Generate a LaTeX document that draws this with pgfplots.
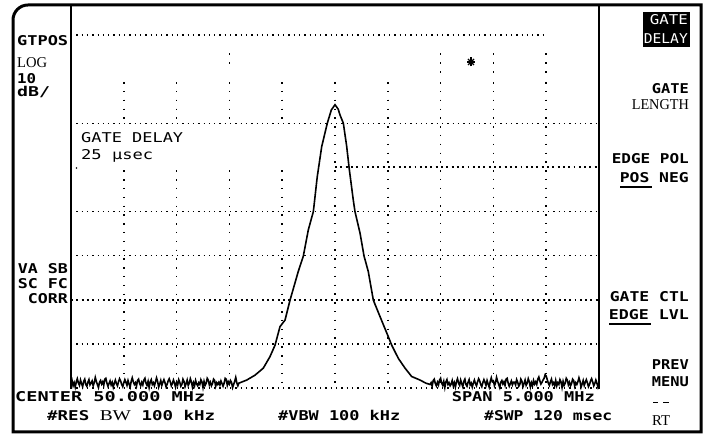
\documentclass[border=0pt]{standalone}
\usepackage{fontspec}
\usepackage{graphicx}
\usepackage{pgfplots}
\pgfplotsset{compat=1.18}
\setmainfont{DejaVu Sans Mono}[BoldFont={DejaVu Sans Mono Bold}]
\newfontfamily\ser{Liberation Serif}
\newlength\tw
\newcommand\fw[2]{\settowidth{\tw}{#2}\pgfmathsetmacro{\sx}{#1*1.00375/\tw}\scalebox{\sx}[1]{#2}}
\newcommand\TL[4]{\node[anchor=base west,inner sep=0pt] at (#1,436-#2) {\fw{#3}{#4}};}
\newcommand\TR[4]{\node[anchor=base east,inner sep=0pt] at (#1,436-#2) {\fw{#3}{#4}};}

\begin{document}
\begin{tikzpicture}[x=1bp,y=1bp,font=\fontsize{13.5bp}{16bp}\selectfont]
\useasboundingbox (0,0) rectangle (705,436);
% outer frame
\draw[line width=3bp] (13,4) [rounded corners=15bp] -- (13,431) [sharp corners] -- (701,431) -- (701,4) -- cycle;
% separators
\draw[line width=2bp] (71,431) -- (71,47);
\draw[line width=2bp] (599,431) -- (599,47);

\begin{axis}[at={(71bp,48bp)}, anchor=south west, scale only axis,
  width=528bp, height=353bp, xmin=47.5, xmax=52.5, ymin=-80, ymax=0,
  axis lines=none, ticks=none, clip=false]
\tikzset{
  hd/.style={line width=1.3bp, dash pattern=on 1.3bp off 4.0bp},
  hb/.style={line width=1.9bp, dash pattern=on 1.9bp off 3.4bp},
  vd/.style={line width=1.5bp, dash pattern=on 1.5bp off 7.3bp, dash phase=-3bp}}
% horizontal graticule
\draw[hd] (axis cs:47.5,0) -- (axis cs:51.99,0);
\draw[hd] (axis cs:47.5,-20) -- (axis cs:52.5,-20);
\draw[hb] (axis cs:50.0,-30) -- (axis cs:52.5,-30);
\draw[hd] (axis cs:47.5,-40) -- (axis cs:52.5,-40);
\draw[hd] (axis cs:47.5,-50) -- (axis cs:52.5,-50);
\draw[hb] (axis cs:47.5,-60) -- (axis cs:52.5,-60);
\draw[hd] (axis cs:47.5,-70) -- (axis cs:52.5,-70);
\draw[hd] (axis cs:47.5,-80) -- (axis cs:52.5,-80);
% vertical graticule
\pgfplotsinvokeforeach{48.0,48.5,49.0,49.5}{
  \draw[vd] (axis cs:#1,-10) -- (axis cs:#1,-20);
  \draw[vd] (axis cs:#1,-30) -- (axis cs:#1,-80);
}
\pgfplotsinvokeforeach{50.0,50.5,51.0,51.5,52.0}{
  \draw[vd] (axis cs:#1,-10) -- (axis cs:#1,-80);
}
\draw[vd] (axis cs:49.0,-3.5) -- (axis cs:49.0,-6.8);
\pgfplotsinvokeforeach{51.0,51.5,52.0}{
  \draw[vd] (axis cs:#1,-3.5) -- (axis cs:#1,-8.8);
}
\addplot[black, line width=1.6bp, mark=none] coordinates {
(47.50,-79.1) (47.51,-78.3) (47.52,-79.5) (47.53,-78.8) (47.54,-79.8) (47.55,-78.6) (47.56,-77.9) (47.57,-78.9) (47.58,-79.4) (47.59,-78.2)
(47.60,-79.0) (47.61,-79.7) (47.62,-78.5) (47.63,-78.0) (47.64,-79.2) (47.65,-79.6) (47.66,-78.7) (47.67,-78.1) (47.68,-79.3) (47.69,-78.9)
(47.70,-78.4) (47.71,-79.5) (47.72,-78.8) (47.73,-77.6) (47.74,-78.5) (47.75,-79.2) (47.76,-79.9) (47.77,-78.7) (47.78,-78.3) (47.79,-79.1)
(47.80,-78.6) (47.81,-79.4) (47.82,-78.0) (47.83,-77.8) (47.84,-78.9) (47.85,-79.6) (47.86,-79.0) (47.87,-78.4) (47.88,-79.3) (47.89,-78.7)
(47.90,-79.8) (47.91,-78.9) (47.92,-78.2) (47.93,-79.0) (47.94,-79.5) (47.95,-78.6) (47.96,-77.9) (47.97,-78.4) (47.98,-79.2) (47.99,-79.7)
(48.00,-78.8) (48.01,-78.1) (48.02,-78.7) (48.03,-79.4) (48.04,-78.3) (48.05,-79.1) (48.06,-79.8) (48.07,-78.5) (48.08,-77.7) (48.09,-78.6)
(48.10,-79.2) (48.11,-78.8) (48.12,-79.6) (48.13,-78.3) (48.14,-78.0) (48.15,-79.0) (48.16,-79.5) (48.17,-78.7) (48.18,-79.3) (48.19,-78.2)
(48.20,-77.8) (48.21,-78.9) (48.22,-79.4) (48.23,-78.5) (48.24,-79.9) (48.25,-78.6) (48.26,-78.1) (48.27,-79.2) (48.28,-78.8) (48.29,-79.5)
(48.30,-78.6) (48.31,-77.7) (48.32,-78.5) (48.33,-79.8) (48.34,-79.1) (48.35,-78.3) (48.36,-79.4) (48.37,-78.7) (48.38,-78.1) (48.39,-78.8)
(48.40,-79.7) (48.41,-79.2) (48.42,-78.4) (48.43,-77.9) (48.44,-78.6) (48.45,-79.5) (48.46,-79.0) (48.47,-78.2) (48.48,-78.9) (48.49,-79.8)
(48.50,-78.7) (48.51,-79.3) (48.52,-78.1) (48.53,-78.7) (48.54,-79.6) (48.55,-79.2) (48.56,-78.0) (48.57,-78.5) (48.58,-79.7) (48.59,-79.0)
(48.60,-78.2) (48.61,-79.4) (48.62,-78.9) (48.63,-77.9) (48.64,-78.6) (48.65,-79.8) (48.66,-78.8) (48.67,-79.5) (48.68,-78.3) (48.69,-79.1)
(48.70,-79.5) (48.71,-78.8) (48.72,-79.2) (48.73,-78.1) (48.74,-78.6) (48.75,-79.9) (48.76,-78.5) (48.77,-79.4) (48.78,-78.9) (48.79,-77.8)
(48.80,-78.2) (48.81,-79.3) (48.82,-78.7) (48.83,-79.5) (48.84,-79.0) (48.85,-78.0) (48.86,-78.3) (48.87,-79.6) (48.88,-78.8) (48.89,-79.2)
(48.90,-78.7) (48.91,-79.3) (48.92,-78.4) (48.93,-79.0) (48.94,-79.6) (48.95,-78.9) (48.96,-77.8) (48.97,-78.0) (48.98,-79.4) (48.99,-78.6)
(49.00,-79.1) (49.01,-78.3) (49.02,-78.7) (49.03,-79.9) (49.04,-79.2) (49.05,-78.5) (49.06,-77.6) (49.07,-78.8) (49.08,-79.5) (49.09,-78.9)
(49.164,-78.2) (49.242,-77.1) (49.321,-75.5) (49.384,-72.9) (49.432,-70.3) (49.479,-66.1) (49.527,-64.6) (49.574,-60.1) (49.652,-53.6)
(49.700,-50.1) (49.747,-44.2) (49.795,-40.0) (49.832,-32.1) (49.874,-25.3) (49.927,-20.0) (49.965,-17.0) (50.000,-15.8) (50.030,-16.8)
(50.047,-18.1) (50.079,-20.0) (50.111,-25.3) (50.133,-30.0) (50.173,-37.4) (50.189,-40.0) (50.237,-44.9) (50.275,-50.1) (50.315,-53.6)
(50.363,-60.1) (50.426,-63.8) (50.505,-68.4) (50.537,-70.3) (50.600,-73.3) (50.663,-75.5) (50.726,-77.4) (50.805,-78.2) (50.860,-78.9)
(50.90,-79.2) (50.91,-78.8) (50.92,-79.6) (50.93,-78.3) (50.94,-78.0) (50.95,-79.0) (50.96,-79.5) (50.97,-78.7) (50.98,-79.3) (50.99,-78.2)
(51.00,-77.8) (51.01,-78.9) (51.02,-79.4) (51.03,-78.5) (51.04,-79.9) (51.05,-78.6) (51.06,-78.1) (51.07,-79.2) (51.08,-78.8) (51.09,-79.5)
(51.10,-79.1) (51.11,-78.3) (51.12,-79.5) (51.13,-78.8) (51.14,-79.8) (51.15,-78.6) (51.16,-77.9) (51.17,-78.9) (51.18,-79.4) (51.19,-78.2)
(51.20,-79.0) (51.21,-79.7) (51.22,-78.5) (51.23,-78.0) (51.24,-79.2) (51.25,-79.6) (51.26,-78.7) (51.27,-78.1) (51.28,-79.3) (51.29,-78.9)
(51.30,-79.8) (51.31,-78.9) (51.32,-78.2) (51.33,-79.0) (51.34,-79.5) (51.35,-78.6) (51.36,-77.9) (51.37,-78.4) (51.38,-79.2) (51.39,-79.7)
(51.40,-78.8) (51.41,-78.1) (51.42,-78.7) (51.43,-79.4) (51.44,-78.3) (51.45,-79.1) (51.46,-79.8) (51.47,-78.5) (51.48,-77.7) (51.49,-78.6)
(51.50,-78.4) (51.51,-79.5) (51.52,-78.8) (51.53,-77.6) (51.54,-78.5) (51.55,-79.2) (51.56,-79.9) (51.57,-78.7) (51.58,-78.3) (51.59,-79.1)
(51.60,-78.6) (51.61,-79.4) (51.62,-78.0) (51.63,-77.8) (51.64,-78.9) (51.65,-79.6) (51.66,-79.0) (51.67,-78.4) (51.68,-79.3) (51.69,-78.7)
(51.70,-78.7) (51.71,-79.3) (51.72,-78.1) (51.73,-78.7) (51.74,-79.6) (51.75,-79.2) (51.76,-78.0) (51.77,-78.5) (51.78,-79.7) (51.79,-79.0)
(51.80,-78.2) (51.81,-79.4) (51.82,-78.9) (51.83,-77.9) (51.84,-78.6) (51.85,-79.8) (51.86,-78.8) (51.87,-79.5) (51.88,-78.3) (51.89,-79.1)
(51.90,-78.6) (51.91,-79.2) (51.92,-78.0) (51.93,-77.5) (51.94,-78.4) (51.95,-79.1) (51.96,-78.7) (51.97,-78.2) (51.98,-77.8) (51.99,-77.0)
(52.00,-77.3) (52.01,-78.1) (52.02,-78.9) (52.03,-79.4) (52.04,-78.6) (52.05,-78.0) (52.06,-79.2) (52.07,-78.8) (52.08,-79.5) (52.09,-78.3)
(52.10,-79.5) (52.11,-78.8) (52.12,-79.2) (52.13,-78.1) (52.14,-78.6) (52.15,-79.9) (52.16,-78.5) (52.17,-79.4) (52.18,-78.9) (52.19,-77.8)
(52.20,-78.2) (52.21,-79.3) (52.22,-78.7) (52.23,-79.5) (52.24,-79.0) (52.25,-78.0) (52.26,-78.3) (52.27,-79.6) (52.28,-78.8) (52.29,-79.2)
(52.30,-78.6) (52.31,-77.7) (52.32,-78.5) (52.33,-79.8) (52.34,-79.1) (52.35,-78.3) (52.36,-79.4) (52.37,-78.7) (52.38,-78.1) (52.39,-78.8)
(52.40,-79.7) (52.41,-79.2) (52.42,-78.4) (52.43,-77.9) (52.44,-78.6) (52.45,-79.5) (52.46,-79.0) (52.47,-78.2) (52.48,-78.9) (52.49,-79.8)
(52.50,-79.0)
};
\end{axis}

% asterisk annotation
\begin{scope}[shift={(471,374)}, line width=1.3bp]
\draw (-4,0) -- (4,0); \draw (0,-4.5) -- (0,4.5);
\draw (-3,-3) -- (3,3); \draw (-3,3) -- (3,-3);
\end{scope}
\fill (76.5,436-168) circle (0.8bp);

% left panel
\TL{17}{46}{51}{\bfseries GTPOS}
\node[anchor=base west,inner sep=0pt] at (17,436-68) {\fw{30}{\ser\fontsize{15bp}{17bp}\selectfont LOG}};
\TL{17}{84}{19}{\bfseries 10}
\TL{17}{97}{33}{\bfseries dB/}
\TR{68}{274}{50}{\bfseries VA SB}
\TR{68}{289}{50}{\bfseries SC FC}
\TR{68}{304}{40}{\bfseries CORR}

% in-graticule annotation
\TL{81}{143}{102}{GATE DELAY}
\TL{81}{160}{72}{25 µsec}

% bottom annotations
\TL{15}{402}{190}{\bfseries CENTER 50.000 MHz}
\TL{47}{421}{168}{\bfseries \#RES {\ser\mdseries\fontsize{15bp}{17bp}\selectfont BW} 100 kHz}
\TL{278}{421}{122}{\bfseries \#VBW 100 kHz}
\TR{595}{402}{143}{\bfseries SPAN 5.000 MHz}
\TL{484}{421}{128}{\bfseries \#SWP 120 msec}

% right panel softkeys
\fill (643,436-47) rectangle (690,436-12);
\node[anchor=base east,inner sep=0pt,text=white] at (688,436-25) {\fw{38}{GATE}};
\node[anchor=base east,inner sep=0pt,text=white] at (688,436-44) {\fw{44}{DELAY}};
\TR{689}{94}{37}{\bfseries GATE}
\node[anchor=base east,inner sep=0pt] at (689,436-110) {\fw{57}{\ser\fontsize{15bp}{17bp}\selectfont LENGTH}};
\TR{689}{164}{77}{\bfseries EDGE POL}
\TR{689}{183}{69}{\bfseries POS NEG}
\draw[line width=1.6bp] (620,436-187) -- (652,436-187);
\TR{689}{302}{79}{\bfseries GATE CTL}
\TR{689}{320}{80}{\bfseries EDGE LVL}
\draw[line width=1.6bp] (609,436-324) -- (651,436-324);
\TR{689}{370}{37}{\bfseries PREV}
\TR{689}{387}{37}{\bfseries MENU}
\draw[line width=1bp] (653,436-403) -- (658,436-403);
\draw[line width=1bp] (663,436-403) -- (669,436-403);
\node[anchor=base west,inner sep=0pt] at (652,436-426) {\fw{18}{\ser\fontsize{15bp}{17bp}\selectfont RT}};
\end{tikzpicture}
\end{document}
